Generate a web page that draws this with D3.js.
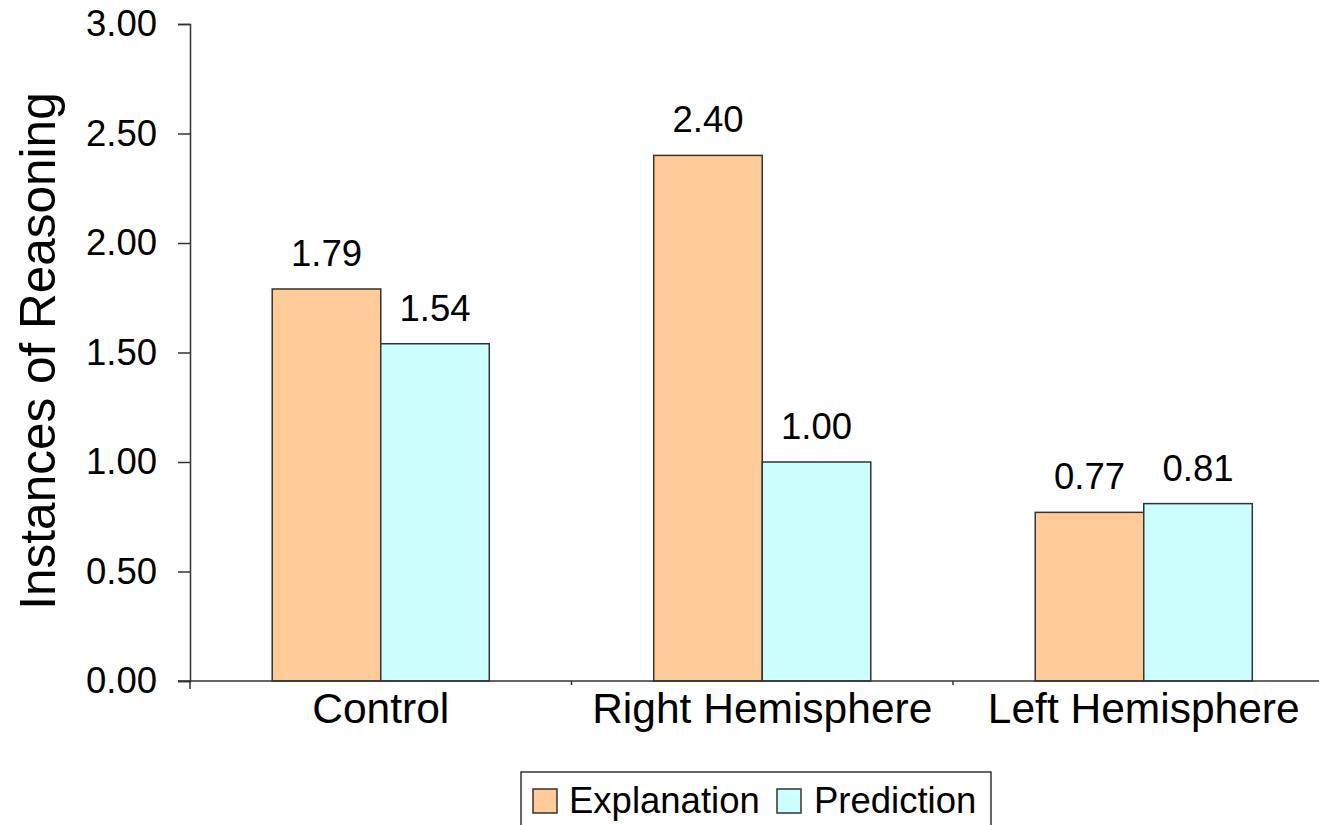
<!DOCTYPE html>
<html>
<head>
<meta charset="utf-8">
<script src="https://cdnjs.cloudflare.com/ajax/libs/d3/7.8.5/d3.min.js"></script>
<style>
  html, body { margin: 0; padding: 0; background: #fff; }
  svg { display: block; }
  text { font-family: "Liberation Sans", Arial, sans-serif; fill: #000; }
</style>
</head>
<body>
<svg id="chart" width="1319" height="825"></svg>
<script>
const categories = ["Control", "Right Hemisphere", "Left Hemisphere"];
const seriesNames = ["Explanation", "Prediction"];
const explanation = [1.79, 2.40, 0.77];
const prediction = [1.54, 1.00, 0.81];
const yTicks = [0, 0.5, 1.0, 1.5, 2.0, 2.5, 3.0];
const colors = ["#FFCC99", "#CCFFFF"];
const yTitle = "Instances of Reasoning";

const svg = d3.select("#chart");
const plotLeft = 190, plotRight = 1334.5, plotTop = 24, plotBottom = 681;

const y = d3.scaleLinear().domain([0, 3]).range([plotBottom, plotTop]);
const x0 = d3.scaleBand().domain(categories).range([plotLeft, plotRight])
  .paddingInner(0.431).paddingOuter(0.2155);
const x1 = d3.scaleBand().domain(seriesNames).range([0, x0.bandwidth()]).padding(0);

const data = categories.map((c, i) => ({
  cat: c,
  vals: [
    { s: seriesNames[0], v: explanation[i], color: colors[0] },
    { s: seriesNames[1], v: prediction[i], color: colors[1] }
  ]
}));

// Bars
const groups = svg.append("g").selectAll("g").data(data).join("g")
  .attr("transform", d => `translate(${x0(d.cat)},0)`);
groups.selectAll("rect").data(d => d.vals).join("rect")
  .attr("x", d => x1(d.s))
  .attr("y", d => y(d.v))
  .attr("width", x1.bandwidth())
  .attr("height", d => y(0) - y(d.v))
  .attr("fill", d => d.color)
  .attr("stroke", "#333")
  .attr("stroke-width", 1.5);

// Value labels
groups.selectAll("text.val").data(d => d.vals).join("text")
  .attr("class", "val")
  .attr("x", d => x1(d.s) + x1.bandwidth() / 2)
  .attr("y", d => y(d.v) - 23)
  .attr("text-anchor", "middle")
  .style("font-size", "36.5px")
  .text(d => d3.format(".2f")(d.v));

// Y axis
const yAxis = svg.append("g").attr("transform", `translate(${plotLeft},0)`)
  .call(d3.axisLeft(y).tickValues(yTicks).tickFormat(d3.format(".2f")).tickSize(12).tickPadding(21));
yAxis.select(".domain").attr("stroke", "#333").attr("stroke-width", 1.5);
yAxis.selectAll(".tick line").attr("stroke", "#333").attr("stroke-width", 1.5);
yAxis.selectAll(".tick text").style("font-size", "36.5px").style("font-family", "'Liberation Sans', Arial, sans-serif").attr("fill", "#000");

// X axis
const xAxis = svg.append("g").attr("transform", `translate(0,${plotBottom})`)
  .call(d3.axisBottom(x0).tickSize(0).tickPadding(0));
xAxis.select(".domain").attr("d", `M${plotLeft - 12},0H${plotRight}`).attr("stroke", "#333").attr("stroke-width", 1.5);
xAxis.selectAll(".tick text")
  .attr("y", 42).attr("dy", 0)
  .style("font-size", "42.5px").style("font-family", "'Liberation Sans', Arial, sans-serif").attr("fill", "#000");
// Category boundary ticks
const boundaries = categories.map((c, i) => i === 0 ? plotLeft : x0(c) - x0.step() * x0.paddingInner() / 2);
xAxis.selectAll("line.bt").data(boundaries).join("line")
  .attr("class", "bt")
  .attr("x1", d => d).attr("x2", d => d)
  .attr("y1", 0).attr("y2", (d, i) => i === 0 ? 8 : 4)
  .attr("stroke", "#333").attr("stroke-width", 1.5);

// Y title
svg.append("text")
  .attr("transform", `translate(55,351) rotate(-90)`)
  .attr("text-anchor", "middle")
  .style("font-size", "49.5px")
  .text(yTitle);

// Legend
const lg = svg.append("g");
lg.append("rect").attr("x", 521).attr("y", 772).attr("width", 470).attr("height", 70)
  .attr("fill", "#fff").attr("stroke", "#333").attr("stroke-width", 1.5);
const legendItems = [
  { name: seriesNames[0], color: colors[0], sx: 533, tx: 569 },
  { name: seriesNames[1], color: colors[1], sx: 777, tx: 814 }
];
lg.selectAll("rect.sw").data(legendItems).join("rect")
  .attr("class", "sw")
  .attr("x", d => d.sx).attr("y", 789).attr("width", 24).attr("height", 24)
  .attr("fill", d => d.color).attr("stroke", "#333").attr("stroke-width", 1.5);
lg.selectAll("text.lt").data(legendItems).join("text")
  .attr("class", "lt")
  .attr("x", d => d.tx).attr("y", 813)
  .style("font-size", "36.5px")
  .text(d => d.name);
</script>
</body>
</html>
